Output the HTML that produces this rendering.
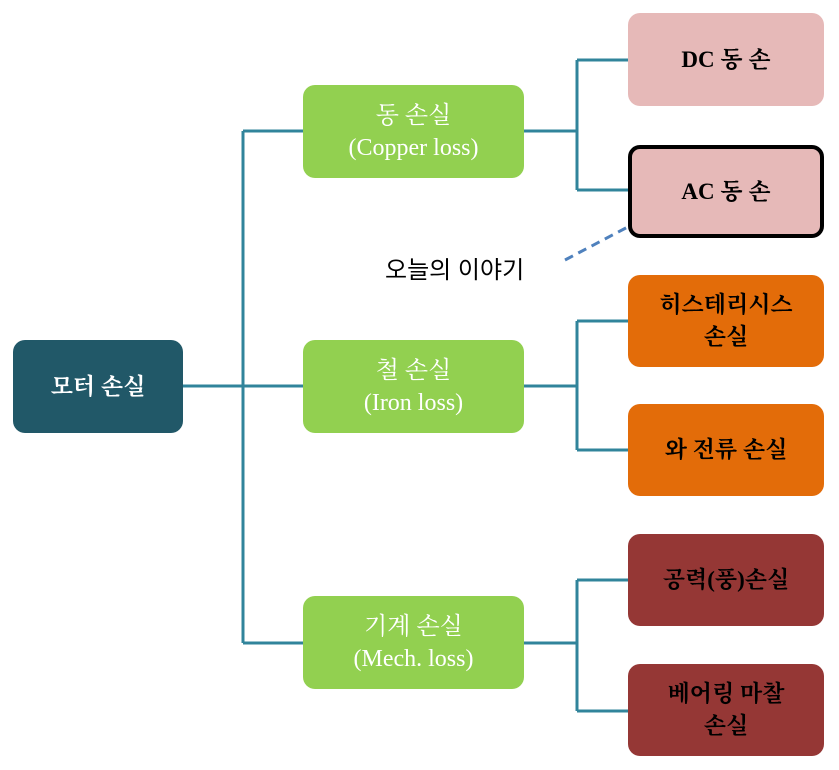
<!DOCTYPE html><html><head><meta charset="utf-8"><style>
body{margin:0;width:839px;height:770px;background:#fff;position:relative;overflow:hidden;font-family:"Liberation Serif","Noto Serif CJK SC",serif}
.b{position:absolute;border-radius:12px;display:flex;align-items:center;justify-content:center;text-align:center;font-size:23px;line-height:32px;font-weight:bold;box-sizing:border-box}
.g{background:#92d050;color:#fff;font-weight:normal;left:303px;width:221px;height:93px;font-size:24px}
.p{background:#e6b9b8;color:#000;left:628px;width:196px;height:93px}
.o{background:#e36c09;color:#000;left:628px;width:196px;height:92px}
.r{background:#953735;color:#000;left:628px;width:196px;height:92px}
</style></head><body>
<svg width="839" height="770" style="position:absolute;left:0;top:0">
<g stroke="#31849b" stroke-width="3" fill="none">
<path d="M183 386H303M243 131V643M243 131H303M243 643H303"/>
<path d="M524 131H577M577 60V190M577 60H628M577 190H628"/>
<path d="M524 386H577M577 321V450M577 321H628M577 450H628"/>
<path d="M524 643H577M577 580V711M577 580H628M577 711H628"/>
</g>
<path d="M565 260L660 210" stroke="#4f81bd" stroke-width="3" stroke-dasharray="9,6" fill="none"/>
<path d="M668 205L652 206L659 218Z" fill="#4f81bd"/>
</svg>
<div class="b" style="left:13px;top:340px;width:170px;height:93px;background:#215868;color:#fff">모터 손실</div>
<div class="b g" style="top:85px">동 손실<br>(Copper loss)</div>
<div class="b g" style="top:340px">철 손실<br>(Iron loss)</div>
<div class="b g" style="top:596px">기계 손실<br>(Mech. loss)</div>
<div class="b p" style="top:13px">DC 동 손</div>
<div class="b p" style="top:145px;border:4px solid #000">AC 동 손</div>
<div class="b o" style="top:275px">히스테리시스<br>손실</div>
<div class="b o" style="top:404px">와 전류 손실</div>
<div class="b r" style="top:534px">공력(풍)손실</div>
<div class="b r" style="top:664px">베어링 마찰<br>손실</div>
<div style="position:absolute;left:385px;top:250px;font-size:24px;font-family:'Liberation Sans','Noto Sans CJK KR',sans-serif">오늘의 이야기</div>
</body></html>
